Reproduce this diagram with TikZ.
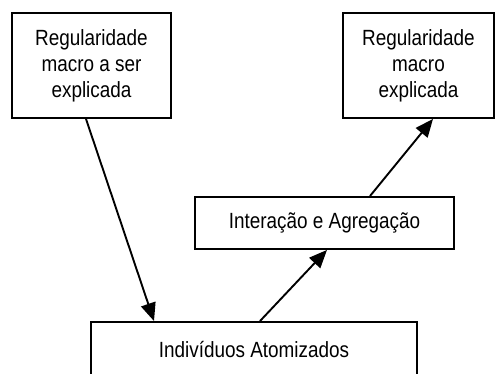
\documentclass[tikz,border=0pt]{standalone}
\usepackage{fontspec}
\setmainfont{Liberation Sans}[FakeStretch=0.86]
\usetikzlibrary{arrows.meta}

\tikzset{caixa/.style = {draw, line width=1.9pt, inner sep=0pt, align=center,
                         font=\fontsize{22}{26}\selectfont},
         seta/.style = {line width=1.9pt, -{Triangle[length=18pt,width=15pt]}}
        }

\begin{document}
\begin{tikzpicture}[x=1pt, y=1pt]
  \useasboundingbox (0, 0) rectangle (496, 374);
  \node[caixa, minimum width=159, minimum height=105] (esq) at (91.5, 308.5)
    {Regularidade\\macro a ser\\explicada};
  \node[caixa, minimum width=151, minimum height=105] (dir) at (418.5, 308.5)
    {Regularidade\\macro\\explicada};
  \node[caixa, minimum width=259, minimum height=52] (meio) at (324.5, 151)
    {Interação e Agregação};
  \node[caixa, minimum width=326, minimum height=56] (base) at (254, 24)
    {Indivíduos Atomizados};
  \draw[seta] ([xshift=-5.5]esq.south) -- ([xshift=-100]base.north);
  \draw[seta] ([xshift=6]base.north) -- ([xshift=2.5]meio.south);
  \draw[seta] ([xshift=45.5]meio.north) -- ([xshift=14.5]dir.south);
\end{tikzpicture}
\end{document}
